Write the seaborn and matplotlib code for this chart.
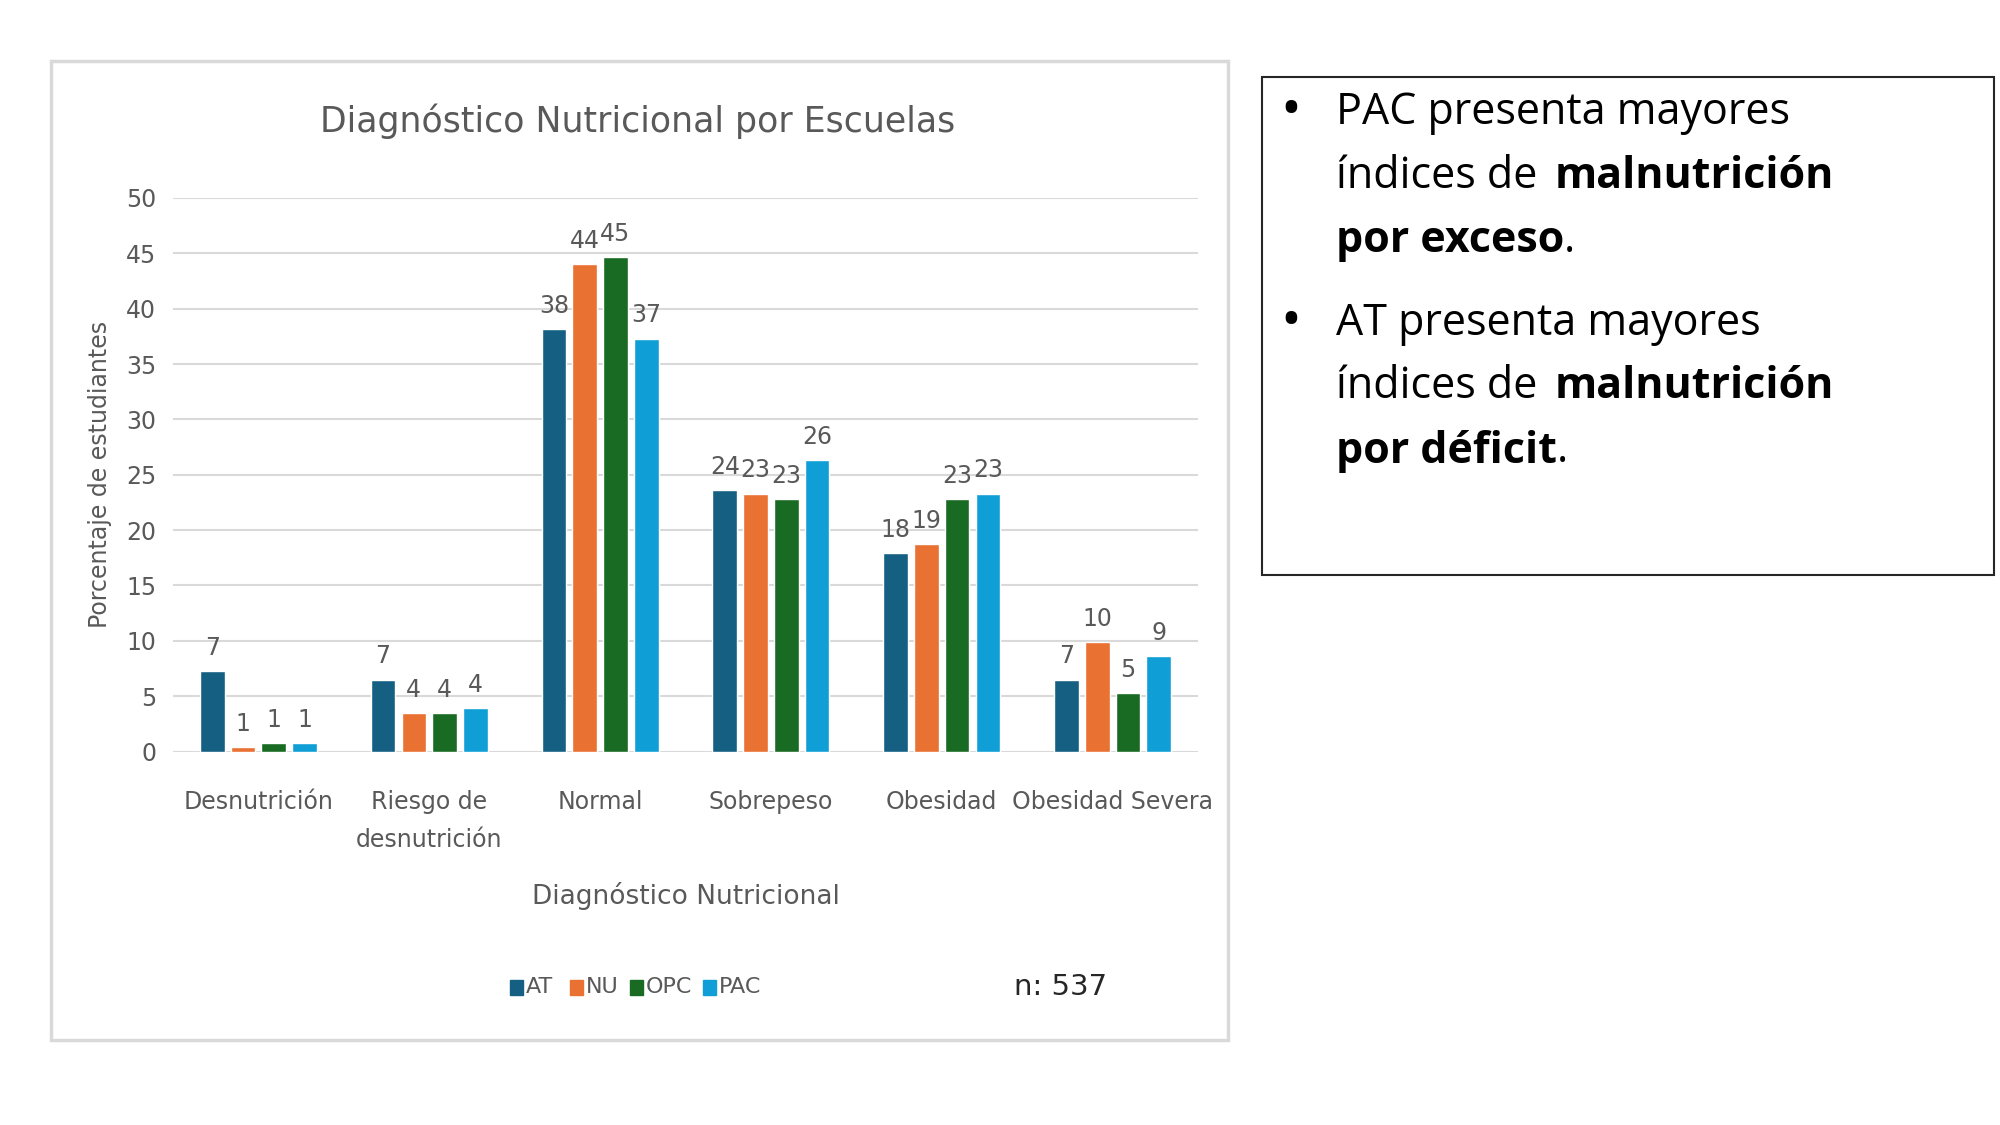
import pandas as pd
import seaborn as sns
import matplotlib.pyplot as plt
from matplotlib.patches import Rectangle

# data
categories = ["Desnutrición", "Riesgo de\ndesnutrición", "Normal", "Sobrepeso", "Obesidad", "Obesidad Severa"]
schools = ["AT", "NU", "OPC", "PAC"]
at_vals = [7.3, 6.5, 38.2, 23.6, 17.9, 6.5]
nu_vals = [0.4, 3.5, 44.0, 23.3, 18.7, 9.9]
opc_vals = [0.8, 3.5, 44.7, 22.8, 22.8, 5.3]
pac_vals = [0.8, 3.9, 37.3, 26.3, 23.3, 8.6]
at_lab = [7, 7, 38, 24, 18, 7]
nu_lab = [1, 4, 44, 23, 19, 10]
opc_lab = [1, 4, 45, 23, 23, 5]
pac_lab = [1, 4, 37, 26, 23, 9]
colors = ["#156082", "#E97132", "#196B24", "#0F9ED5"]

rows = []
for s, vals in zip(schools, [at_vals, nu_vals, opc_vals, pac_vals]):
    for c, v in zip(categories, vals):
        rows.append({"cat": c, "school": s, "val": v})
df = pd.DataFrame(rows)

sns.set_theme(style="white")
narrow = ["Liberation Sans Narrow", "DejaVu Sans"]
plt.rcParams['font.family'] = narrow
grey = "#595959"

fig = plt.figure(figsize=(20, 11.25), dpi=100)
fig.patches.append(Rectangle((0.0256, 0.076), 0.5885, 0.870, transform=fig.transFigure,
                             fill=False, edgecolor="#d9d9d9", lw=2.5))

ax = fig.add_axes([0.0865, 0.332, 0.5125, 0.492])
sns.barplot(data=df, x="cat", y="val", hue="school", palette=colors, ax=ax,
            width=0.72, gap=0.2, saturation=1, legend=False)
ax.set_ylim(0, 50)
ax.set_yticks(range(0, 51, 5))
ax.yaxis.grid(True, color="#d9d9d9", lw=1.5)
ax.set_axisbelow(True)
for sp in ax.spines.values():
    sp.set_visible(False)
ax.tick_params(axis="both", length=0, labelsize=17, colors=grey, pad=12)
ax.tick_params(axis="x", pad=28)
for t in ax.get_xticklabels():
    t.set_linespacing(1.7)
    t.set_verticalalignment("top")
ax.set_xlabel("Diagnóstico Nutricional", fontsize=19, color=grey, labelpad=22)
ax.set_ylabel("Porcentaje de estudiantes", fontsize=17, color=grey, labelpad=10)
for cont, labs in zip(ax.containers, [at_lab, nu_lab, opc_lab, pac_lab]):
    ax.bar_label(cont, labels=[str(l) for l in labs], padding=8, fontsize=17, color=grey)

fig.text(0.319, 0.892, "Diagnóstico Nutricional por Escuelas", ha="center", va="center",
         fontsize=25, color=grey)

# legend
x = 0.255
for s, c in zip(schools, colors):
    fig.patches.append(Rectangle((x, 0.116), 0.0065, 0.013, transform=fig.transFigure,
                                 color=c))
    fig.text(x + 0.008, 0.123, s, fontsize=16, color=grey, va="center")
    x += 0.017 + 0.0065 * len(s)
fig.text(0.507, 0.123, "n: 537", fontsize=21, color="#262626", va="center")

# text box
fig.patches.append(Rectangle((0.631, 0.489), 0.366, 0.443, transform=fig.transFigure,
                             fill=False, edgecolor="#262626", lw=1.5))
box_font = ["Open Sans", "DejaVu Sans"]
lines = [
    (0.900, [("PAC presenta mayores", "normal")], True),
    (0.843, [("índices de ", "normal"), ("malnutrición", "bold")], False),
    (0.786, [("por exceso", "bold"), (".", "normal")], False),
    (0.7125, [("AT presenta mayores", "normal")], True),
    (0.656, [("índices de ", "normal"), ("malnutrición", "bold")], False),
    (0.599, [("por déficit", "bold"), (".", "normal")], False),
]
fig.canvas.draw()
r = fig.canvas.get_renderer()
for y, parts, bullet in lines:
    if bullet:
        fig.text(0.640, y, "•", fontsize=40, va="center", color="black", family=box_font)
    x = 0.668
    for txt, w in parts:
        t = fig.text(x, y, txt, fontsize=31, weight=w, va="center", color="black",
                     family=box_font)
        bb = t.get_window_extent(renderer=r)
        x += bb.width / fig.bbox.width
        if txt.endswith(" "):
            x += 0.003

fig.savefig("out.png", dpi=100)
